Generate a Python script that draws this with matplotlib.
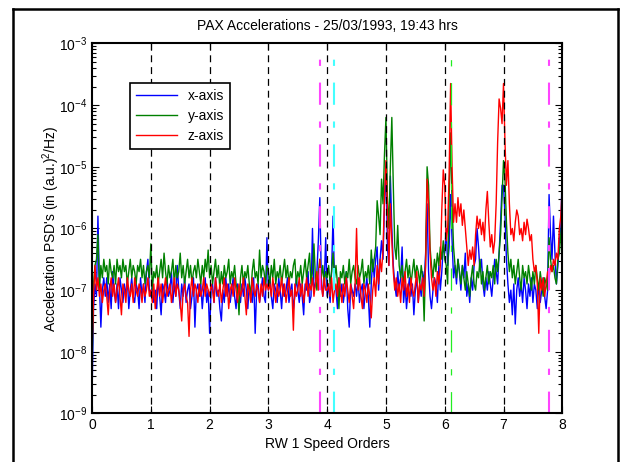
import numpy as np
import matplotlib
matplotlib.use("Agg")
import matplotlib.pyplot as plt
from matplotlib.lines import Line2D

plt.rcParams['font.family'] = ['Liberation Sans', 'DejaVu Sans']
plt.rcParams['font.size'] = 10
plt.rcParams['mathtext.default'] = 'regular'
plt.rcParams['lines.scale_dashes'] = False

# speed orders 0..8, step 0.025
orders = np.linspace(0, 8, 321)

# log10 of PSD
x_axis_log = [
    -8.7, -7.3, -6.9, -7.1, -5.8, -6.9, -7.6, -7.0, -6.8, -7.1, -6.8, -7.2, -6.9, -7.3, -6.7, -7.0, -7.2, -6.9, -7.3, -6.8,
    -7.0, -7.2, -6.9, -7.1, -6.8, -7.3, -7.0, -6.8, -7.1, -7.2, -6.9, -7.0, -7.3, -6.8, -7.1, -6.9, -7.2, -6.7, -6.5, -7.0,
    -7.1, -6.9, -7.2, -7.0, -7.3, -6.8, -7.1, -7.4, -6.9, -7.0, -7.2, -6.8, -7.1, -7.0, -6.7, -7.2, -6.9, -7.1, -6.6, -7.0,
    -7.3, -6.9, -7.1, -6.8, -7.2, -7.0, -6.9, -7.3, -7.1, -6.8, -7.6, -7.0, -6.9, -7.1, -6.9, -7.3, -7.0, -6.8, -7.2, -7.0,
    -7.7, -7.0, -6.9, -7.2, -6.8, -7.1, -7.0, -7.3, -7.5, -7.0, -7.2, -6.8, -7.1, -6.9, -7.2, -7.0, -6.8, -7.1, -7.3, -6.9,
    -7.0, -7.2, -6.9, -7.1, -6.8, -7.0, -7.3, -6.9, -7.1, -7.2, -6.8, -7.7, -7.0, -6.9, -7.2, -7.0, -6.8, -7.1, -7.2, -6.15,
    -7.0, -6.8, -7.1, -7.3, -6.9, -7.0, -7.2, -6.8, -7.0, -7.3, -6.9, -7.1, -7.0, -6.8, -7.2, -7.0, -6.9, -7.3, -7.1, -6.8,
    -7.0, -7.2, -6.9, -7.1, -7.4, -6.9, -7.0, -6.7, -7.2, -7.1, -6.0, -7.0, -6.9, -6.7, -6.2, -5.5, -6.8, -7.1, -6.9, -6.15,
    -7.1, -6.9, -7.2, -6.7, -5.8, -6.9, -7.0, -7.3, -6.8, -7.1, -6.9, -7.2, -7.0, -6.7, -7.3, -7.6, -6.9, -7.0, -7.1, -6.9,
    -7.1, -6.8, -7.2, -7.0, -6.9, -7.3, -7.0, -6.8, -7.1, -7.6, -6.9, -6.5, -6.8, -6.5, -6.3, -7.0, -6.5, -6.2, -6.5, -5.6,
    -5.0, -6.3, -6.6, -5.15, -6.0, -6.6, -6.9, -7.1, -6.7, -7.0, -6.8, -6.3, -7.2, -6.9, -7.3, -7.0, -6.8, -7.1, -6.9, -7.4,
    -7.0, -6.8, -7.2, -6.9, -7.1, -6.7, -6.9, -6.4, -5.6, -6.7, -7.1, -7.3, -7.0, -6.8, -6.9, -7.2, -6.6, -7.0, -6.7, -6.3,
    -6.4, -6.0, -6.6, -6.3, -5.45, -6.2, -6.8, -6.6, -6.9, -6.5, -6.7, -7.0, -6.6, -6.8, -6.4, -7.1, -6.9, -7.2, -6.8, -7.0,
    -6.6, -6.5, -6.0, -6.3, -6.7, -6.5, -6.9, -7.1, -6.8, -7.0, -6.7, -6.9, -7.1, -6.8, -6.5, -6.7, -6.9, -6.4, -5.9, -5.3,
    -5.3, -5.8, -6.5, -6.9, -7.2, -7.0, -7.4, -6.9, -7.55, -7.0, -6.8, -7.1, -6.9, -7.2, -6.8, -7.0, -7.3, -6.9, -7.1, -6.8,
    -7.2, -6.9, -7.0, -7.3, -6.9, -7.2, -7.0, -6.8, -7.1, -7.3, -7.0, -5.45, -6.1, -6.5, -5.8, -6.4, -6.9, -6.6, -6.2, -6.0,
    -5.0,
]
y_axis_log = [
    -8.3, -6.9, -6.6, -6.5, -6.1, -7.0, -6.6, -6.8, -6.5, -6.7, -6.6, -6.9, -6.5, -6.7, -6.8, -6.6, -6.9, -6.5, -6.7, -6.6,
    -6.8, -6.5, -6.7, -6.6, -6.9, -6.7, -6.5, -6.8, -6.6, -6.7, -6.9, -6.6, -6.7, -6.5, -6.8, -6.6, -6.9, -6.7, -6.6, -6.8,
    -6.25, -7.0, -6.7, -6.8, -6.6, -6.9, -6.7, -6.5, -6.8, -6.4, -6.7, -6.9, -6.6, -6.8, -6.7, -6.5, -6.9, -6.6, -6.8, -6.7,
    -6.4, -6.8, -6.6, -6.9, -6.7, -6.5, -6.8, -6.6, -6.9, -6.7, -6.6, -6.8, -6.5, -6.7, -6.9, -6.6, -6.8, -6.5, -6.7, -6.35,
    -6.8, -6.6, -6.9, -6.7, -6.5, -6.8, -6.6, -7.0, -6.7, -6.9, -6.6, -6.8, -6.7, -6.5, -6.9, -6.7, -6.8, -6.6, -6.9, -7.0,
    -7.4, -6.8, -6.6, -6.9, -6.7, -6.8, -6.6, -6.9, -7.1, -6.7, -6.5, -6.8, -6.7, -6.9, -6.35, -6.8, -6.6, -6.7, -6.9, -6.6,
    -6.7, -6.9, -6.6, -6.8, -6.5, -6.9, -6.7, -6.8, -6.6, -6.9, -6.7, -6.5, -6.8, -6.6, -6.9, -6.7, -6.8, -6.6, -6.5, -6.9,
    -6.7, -6.8, -6.6, -6.9, -6.7, -6.5, -6.8, -6.6, -6.4, -6.9, -6.7, -6.25, -6.8, -7.0, -6.7, -6.5, -6.8, -6.6, -6.9, -6.7,
    -6.8, -6.6, -6.9, -6.7, -6.4, -6.8, -6.6, -6.9, -7.3, -6.7, -6.8, -6.6, -6.9, -6.7, -6.8, -6.5, -6.9, -6.7, -6.6, -6.8,
    -6.9, -6.6, -6.8, -6.7, -6.5, -6.9, -6.7, -6.8, -6.6, -6.9, -6.35, -6.7, -6.5, -6.3, -5.55, -5.8, -6.1, -5.2, -5.6, -4.8,
    -4.2, -5.5, -6.0, -5.0, -4.2, -5.3, -6.3, -6.5, -5.95, -6.6, -6.8, -6.6, -6.9, -6.7, -6.5, -6.8, -6.6, -6.9, -6.7, -6.5,
    -6.8, -6.6, -6.7, -6.9, -6.6, -6.8, -7.5, -6.5, -5.0, -5.3, -6.3, -6.6, -6.8, -6.5, -6.7, -6.4, -6.6, -6.3, -6.5, -6.2,
    -6.5, -6.6, -6.9, -5.5, -4.45, -5.6, -6.3, -6.6, -6.8, -6.5, -6.7, -6.9, -6.6, -6.8, -7.0, -6.7, -6.9, -7.1, -6.8, -6.6,
    -6.9, -7.0, -6.7, -6.8, -6.5, -6.9, -6.7, -7.0, -6.8, -6.6, -6.9, -6.7, -6.8, -6.6, -6.9, -6.5, -6.7, -6.4, -6.1, -5.5,
    -4.9, -5.2, -5.9, -6.4, -6.7, -6.5, -6.8, -6.6, -6.9, -6.7, -6.5, -6.8, -7.0, -6.6, -6.8, -6.7, -6.9, -6.6, -6.8, -7.0,
    -6.7, -6.9, -6.6, -6.8, -7.0, -6.7, -6.9, -7.1, -6.8, -6.9, -7.0, -6.15, -6.5, -6.7, -6.6, -6.8, -6.9, -6.5, -6.4, -6.1,
    -5.8,
]
z_axis_log = [
    -8.0, -7.1, -6.6, -7.0, -6.8, -7.1, -6.9, -7.2, -7.0, -6.9, -7.1, -7.4, -7.0, -6.8, -7.1, -6.9, -7.2, -7.0, -6.8, -7.1,
    -7.4, -6.9, -7.0, -7.2, -6.8, -7.0, -7.1, -6.9, -7.2, -6.8, -7.0, -7.1, -6.9, -7.0, -7.2, -6.9, -7.1, -7.0, -6.8, -7.1,
    -7.0, -7.2, -6.9, -7.3, -7.0, -6.8, -7.1, -6.9, -7.2, -7.0, -6.8, -7.1, -7.0, -6.9, -7.2, -7.0, -6.8, -7.1, -6.9, -7.0,
    -7.2, -7.5, -7.0, -6.9, -7.1, -7.2, -7.75, -7.0, -6.8, -7.1, -6.9, -7.0, -7.2, -6.9, -7.1, -7.0, -6.8, -7.1, -6.9, -7.0,
    -7.1, -6.9, -7.0, -7.2, -6.8, -7.0, -7.1, -6.9, -7.2, -7.0, -6.8, -7.1, -6.9, -7.3, -7.0, -6.9, -7.1, -6.8, -7.0, -7.2,
    -6.9, -7.1, -7.0, -6.8, -7.1, -7.4, -6.9, -7.0, -7.2, -6.8, -7.0, -7.1, -6.9, -7.0, -7.2, -6.9, -7.1, -6.8, -7.0, -6.9,
    -7.0, -6.9, -7.1, -6.8, -7.0, -7.2, -6.9, -7.1, -7.0, -6.8, -7.1, -6.9, -7.2, -7.0, -6.8, -7.1, -7.0, -7.65, -6.9, -7.1,
    -7.0, -6.8, -7.1, -6.9, -7.2, -7.0, -6.8, -7.1, -6.9, -7.0, -6.8, -7.1, -6.9, -6.7, -7.0, -6.5, -6.9, -7.1, -6.8, -7.0,
    -7.0, -6.9, -7.1, -6.8, -7.2, -7.0, -6.9, -7.1, -6.8, -7.0, -7.2, -6.9, -7.1, -6.8, -7.0, -7.2, -6.9, -7.1, -7.3, -6.9,
    -6.0, -7.0, -6.8, -7.1, -7.3, -6.9, -7.0, -7.2, -6.9, -7.1, -7.45, -7.0, -6.8, -7.1, -6.6, -6.9, -6.5, -6.7, -6.35, -5.5,
    -4.9, -5.7, -6.6, -5.6, -6.2, -6.7, -7.0, -6.8, -7.1, -6.9, -7.2, -6.8, -7.0, -6.7, -7.1, -6.9, -7.2, -6.8, -7.0, -7.1,
    -6.9, -6.7, -7.2, -6.9, -7.0, -6.8, -7.1, -6.6, -5.2, -5.6, -6.4, -6.8, -7.0, -6.8, -7.1, -6.7, -6.9, -6.6, -5.7, -5.05,
    -5.3, -6.2, -6.0, -5.1, -3.65, -5.0, -5.9, -5.6, -5.9, -5.5, -5.8, -5.6, -5.95, -5.7, -6.0, -6.3, -6.6, -6.35, -6.5, -6.3,
    -6.6, -6.1, -5.8, -6.0, -5.85, -6.1, -5.9, -6.2, -5.7, -5.4, -5.9, -6.3, -6.1, -6.4, -6.2, -5.6, -4.6, -3.9, -4.05, -4.3,
    -3.65, -4.6, -5.3, -4.9, -5.6, -6.1, -6.0, -6.2, -5.9, -5.7, -5.8, -6.1, -6.0, -6.2, -5.9, -6.1, -5.85, -6.0, -6.2, -6.1,
    -6.5, -6.7, -6.6, -6.9, -7.7, -6.8, -7.0, -6.8, -7.1, -6.9, -6.7, -6.8, -6.6, -6.7, -6.5, -6.6, -6.4, -6.5, -6.0, -5.8,
    -5.3,
]

# reference lines (speed orders)
black_orders = [1, 2, 3, 4, 5, 6, 7]
magenta_orders = [3.87, 7.77]
cyan_orders = [4.11]
green_orders = [6.11]

fig = plt.figure(figsize=(6.22, 4.62), dpi=100)
ax = fig.add_axes([0.148, 0.105, 0.756, 0.801])

ax.semilogy(orders, 10 ** np.array(x_axis_log), color='#0000ff', lw=1.0, label='x-axis')
ax.semilogy(orders, 10 ** np.array(y_axis_log), color='#008000', lw=1.0, label='y-axis')
ax.semilogy(orders, 10 ** np.array(z_axis_log), color='#ff0000', lw=1.0, label='z-axis')

ymin, ymax = 1e-9, 1e-3
for o in black_orders:
    ax.plot([o, o], [ymax, ymin], color='k', lw=0.9, dashes=(5, 3.5))
# long dash / short dash pattern, starting in the gap after a long dash
dd = (16, (16, 12, 4.5, 12))
for o in magenta_orders:
    ax.plot([o, o], [ymax, ymin], color='#ff44ff', lw=1.5, linestyle=dd)
for o in cyan_orders:
    ax.plot([o, o], [ymax, ymin], color='#44ffff', lw=1.5, linestyle=dd)
for o in green_orders:
    ax.plot([o, o], [ymax, ymin], color='#22ee22', lw=0.9, linestyle=dd)

ax.set_xlim(0, 8)
ax.set_ylim(ymin, ymax)
ax.set_xticks(range(9))
ax.tick_params(which='both', direction='in', top=True, right=True, width=0.8)
ax.tick_params(which='major', length=5)
ax.tick_params(which='minor', length=3)
for s in ax.spines.values():
    s.set_linewidth(1.5)

ax.set_title('PAX Accelerations - 25/03/1993, 19:43 hrs', fontsize=10, pad=10)
ax.set_xlabel('RW 1 Speed Orders', fontsize=10, labelpad=3)
ax.set_ylabel("Acceleration PSD's (in (a.u.)$^2$/Hz)", fontsize=10, labelpad=-2)

leg = ax.legend(loc='upper left', bbox_to_anchor=(0.081, 0.893), borderaxespad=0,
                fancybox=False, edgecolor='k', framealpha=1, handlelength=2.9,
                borderpad=0.45, labelspacing=0.42, fontsize=10)
leg.get_frame().set_linewidth(1.2)

# outer frame around the figure
fw = 1.8
fig.add_artist(Line2D([13 / 622, 13 / 622], [0, 1 - 9 / 462], color='k', lw=fw, transform=fig.transFigure))
fig.add_artist(Line2D([13 / 622, 618 / 622], [1 - 9 / 462, 1 - 9 / 462], color='k', lw=fw, transform=fig.transFigure))
fig.add_artist(Line2D([618 / 622, 618 / 622], [1 - 9 / 462, 0], color='k', lw=fw, transform=fig.transFigure))

fig.savefig('out.png', dpi=100)
